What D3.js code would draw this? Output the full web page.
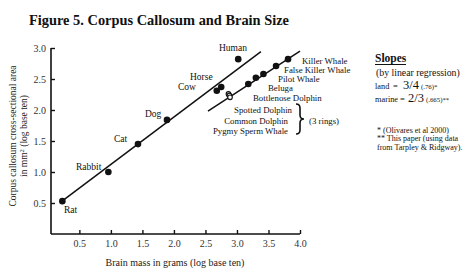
<!DOCTYPE html>
<html><head><meta charset="utf-8">
<script src="https://cdn.jsdelivr.net/npm/d3@7"></script>
<style>
html,body{margin:0;padding:0;background:#fff;}
svg{display:block;font-family:"Liberation Serif","Times New Roman",serif;}
</style></head>
<body><svg id="c" width="468" height="275"></svg>
<script>
// ---- data ----
const landNames = ["Rat","Rabbit","Cat","Dog","Cow","Horse","Human"];
const landX = [0.23, 0.96, 1.43, 1.89, 2.68, 2.75, 3.02];
const landY = [0.53, 1.00, 1.45, 1.84, 2.31, 2.37, 2.82];
const marineNames = ["Beluga","Bottlenose Dolphin","Pilot Whale","False Killer Whale","Killer Whale"];
const marineX = [3.18, 3.30, 3.42, 3.62, 3.81];
const marineY = [2.42, 2.52, 2.58, 2.71, 2.82];
const ringNames = ["Spotted Dolphin","Common Dolphin","Pygmy Sperm Whale"];
const ringX = [2.865, 2.88, 2.89];
const ringY = [2.26, 2.235, 2.205];
const landFitX = [0.225, 3.38], landFitY = [0.53, 2.94];
const marineFitX = [2.54, 4.0], marineFitY = [1.98, 2.95];
const xTicks = [0.5, 1.0, 1.5, 2.0, 2.5, 3.0, 3.5, 4.0];
const yTicks = [0.5, 1.0, 1.5, 2.0, 2.5, 3.0];

// ---- layout ----
const svg = d3.select("#c");
const x = d3.scaleLinear().domain([0.05, 4.0]).range([51, 300]);
const y = d3.scaleLinear().domain([0, 3.0]).range([234, 48]);
const ink = "#111";

svg.append("text").attr("x", 29).attr("y", 25)
  .attr("font-size", 14.4).attr("font-weight", "bold").attr("fill", ink)
  .text("Figure 5. Corpus Callosum and Brain Size");

// axes
const xa = svg.append("g").attr("transform", "translate(0,234)")
  .call(d3.axisBottom(x).tickValues(xTicks).tickFormat(d3.format(".1f")).tickSizeInner(-4).tickSizeOuter(0).tickPadding(6));
const ya = svg.append("g").attr("transform", "translate(51,0)")
  .call(d3.axisLeft(y).tickValues(yTicks).tickFormat(d3.format(".1f")).tickSizeInner(-4).tickSizeOuter(0).tickPadding(5));
[xa, ya].forEach(g => {
  g.select(".domain").attr("stroke", ink).attr("stroke-width", 1.6);
  g.selectAll(".tick line").attr("stroke", ink).attr("stroke-width", 1.4);
  g.selectAll(".tick text").attr("font-family", "Liberation Serif").attr("font-size", 10).attr("fill", "#333");
});
xa.select(".domain").attr("d", `M${x(0.05)},0H${x(4.0)}`);
ya.select(".domain").attr("d", `M0,${y(0)}V${y(3.0)}`);
ya.selectAll(".tick text").attr("dy", "0.35em");

svg.append("text").attr("x", 175).attr("y", 266).attr("text-anchor", "middle")
  .attr("font-size", 10).attr("fill", "#222").text("Brain mass in grams (log base ten)");
const yt = svg.append("text").attr("transform", "translate(16,136) rotate(-90)")
  .attr("text-anchor", "middle").attr("font-size", 9.5).attr("fill", "#222");
yt.append("tspan").attr("x", 0).attr("dy", 0).text("Corpus callosum cross-sectional area");
const l2 = yt.append("tspan").attr("x", 0).attr("dy", 11).text("in mm");
l2.append("tspan").attr("baseline-shift", "super").attr("font-size", 6.5).text("2");
yt.append("tspan").text(" (log base ten)");

// fit lines
const line = d3.line().x(d => x(d[0])).y(d => y(d[1]));
svg.append("path").attr("d", line(d3.zip(landFitX, landFitY))).attr("stroke", ink).attr("stroke-width", 1.5).attr("fill", "none");
svg.append("path").attr("d", line(d3.zip(marineFitX, marineFitY))).attr("stroke", ink).attr("stroke-width", 1.5).attr("fill", "none");

// points
svg.selectAll(".land").data(d3.range(landX.length)).join("circle")
  .attr("cx", i => x(landX[i])).attr("cy", i => y(landY[i])).attr("r", 3.3).attr("fill", ink);
svg.selectAll(".mar").data(d3.range(marineX.length)).join("circle")
  .attr("cx", i => x(marineX[i])).attr("cy", i => y(marineY[i])).attr("r", 3.3).attr("fill", ink);
svg.selectAll(".ring").data(d3.range(ringX.length)).join("circle")
  .attr("cx", i => x(ringX[i])).attr("cy", i => y(ringY[i])).attr("r", 2.3)
  .attr("fill", "#fff").attr("stroke", ink).attr("stroke-width", 1.1);

// labels
const fs = 9.5, fm = 8.8;
const landLab = [[64,213],[76,170],[114,142],[145,117],[178,90],[190,80],[219,51]];
landNames.forEach((n, i) => svg.append("text").attr("x", landLab[i][0]).attr("y", landLab[i][1])
  .attr("font-size", fs).attr("fill", ink).text(n));
const marLab = [[268,90.5],[253,101],[278,82.3],[284,72.6],[302,64]];
marineNames.forEach((n, i) => svg.append("text").attr("x", marLab[i][0]).attr("y", marLab[i][1])
  .attr("font-size", fm).attr("fill", ink).text(n));
const ringLab = [[292,113],[288,124],[288,134]];
ringNames.forEach((n, i) => svg.append("text").attr("x", ringLab[i][0]).attr("y", ringLab[i][1])
  .attr("text-anchor", "end").attr("font-size", fm).attr("fill", ink).text(n));
// brace
svg.append("path").attr("d", "M296,104 Q300,104 300,108 L300,115 Q300,119 304,119 Q300,119 300,123 L300,130 Q300,134 296,134")
  .attr("fill", "none").attr("stroke", ink).attr("stroke-width", 1.6);
svg.append("text").attr("x", 309).attr("y", 124).attr("font-size", fm).attr("fill", ink).text("(3 rings)");

// slopes legend
svg.append("text").attr("x", 375).attr("y", 62).attr("font-size", 11.5).attr("font-weight", "bold").attr("fill", ink).text("Slopes");
svg.append("line").attr("x1", 375).attr("x2", 406).attr("y1", 64.5).attr("y2", 64.5).attr("stroke", ink).attr("stroke-width", 1);
svg.append("text").attr("x", 376).attr("y", 76).attr("font-size", 9.8).attr("fill", ink).text("(by linear regression)");
const s1 = svg.append("g").attr("fill", ink);
[["land", 375, 89, 8.3], ["=", 393, 89, 8.5], ["3/4", 403, 89, 12.5], ["(.76)*", 421, 89, 6.8],
 ["marine", 375, 102, 8.3], ["=", 400, 102, 8.5], ["2/3", 408, 102, 12.5], ["(.665)**", 426, 102, 6.8]]
  .forEach(d => s1.append("text").attr("x", d[1]).attr("y", d[2]).attr("font-size", d[3]).text(d[0]));
["* (Olivares et al 2000)", "** This paper (using data", "from Tarpley & Ridgway)."].forEach((t, i) =>
  svg.append("text").attr("x", 377).attr("y", 133 + i * 8.3).attr("font-size", 8).attr("fill", ink).text(t));
</script></body></html>
